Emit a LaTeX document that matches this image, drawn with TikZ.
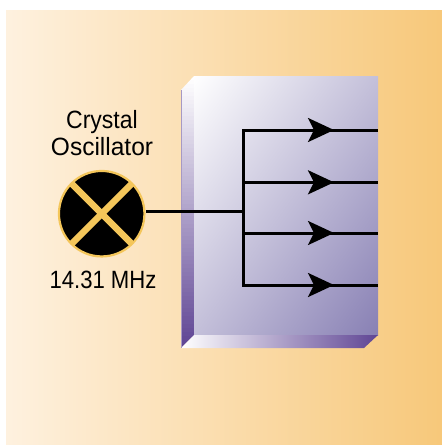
\documentclass[tikz,border=0pt]{standalone}
\usepackage{fontspec}
\setmainfont{Liberation Sans}
\usetikzlibrary{arrows.meta,calc}
\definecolor{bgL}{HTML}{FEF1DF}
\definecolor{bgR}{HTML}{F7C87A}
\definecolor{faceD}{HTML}{8880B4}
\definecolor{bevelD}{HTML}{5F4594}
\definecolor{xtal}{HTML}{F4C65A}
\tikzset{
  wire/.style={draw=black,line width=3pt},
  flow/.style={wire,-{Stealth[length=26pt,width=24pt,inset=6pt]}},
  lbl/.style={font=\fontsize{25}{25}\selectfont,anchor=base,text=black,inner sep=0pt},
  oscbody/.style={circle,fill=black,draw=xtal,line width=2.2pt,minimum size=85.5pt,inner sep=0pt}
}
\begin{document}
\begin{tikzpicture}[x=1pt,y=-1pt]
\useasboundingbox (0,0) rectangle (442,445);
\shade[left color=bgL,right color=bgR] (6,10) rectangle (442,445);
% slab
\begin{scope}
\clip (194,76) rectangle (378,335);
\shade[top color=white,bottom color=faceD,shading angle=54.6] (136,55.5) rectangle (436,355.5);
\end{scope}
\begin{scope}
\clip (181,90) -- (194,76) -- (194.3,76) -- (194.3,335) -- (181,348) -- cycle;
\foreach \i in {0,...,67}{
  \pgfmathsetmacro{\pct}{100-\i*100/67}
  \pgfmathsetmacro{\ya}{76+\i*4}
  \fill[white!\pct!bevelD] (181,\ya) rectangle (194.3,\ya+4.3);
}
\end{scope}
\shade[left color=white,right color=bevelD] (181,348) -- (194,335) -- (378,335) -- (364,348) -- cycle;
\draw[bevelD!55,line width=.5pt] (181,90) -- (181,348);
% oscillator
\node[oscbody] (osc) at (101.7,213.7) {};
\begin{scope}
\clip (osc.center) circle[radius=42.7];
\draw[xtal,line width=6.5pt] (osc.north west) -- (osc.south east);
\draw[xtal,line width=6.5pt] (osc.north east) -- (osc.south west);
\end{scope}
% labels
\node[lbl] (l1) at (102,128) {\addfontfeature{FakeStretch=.92}Crystal};
\node[lbl] (l2) at (102,155) {\addfontfeature{FakeStretch=.98}Oscillator};
\node[lbl] (l3) at (103,288) {\addfontfeature{FakeStretch=.885}14.31 MHz};
% wiring
\coordinate (bus) at (243,211.5);
\coordinate (stub) at (146,211.5);
\coordinate (b1) at (243,130);
\coordinate (b2) at (243,182.3);
\coordinate (b3) at (243,233);
\coordinate (b4) at (243,285);
\draw[wire] (stub) -- (bus);
\draw[wire,line cap=rect] (b1) -- (b4);
\foreach \n/\y in {1/130,2/182.3,3/233,4/285}{
  \coordinate (t\n) at (325,\y);
  \coordinate (a\n) at (334,\y);
  \coordinate (e\n) at (378,\y);
  \draw[wire] (t\n) -- (e\n);
  \draw[flow] (b\n) -- (a\n);
}
\end{tikzpicture}
\end{document}
